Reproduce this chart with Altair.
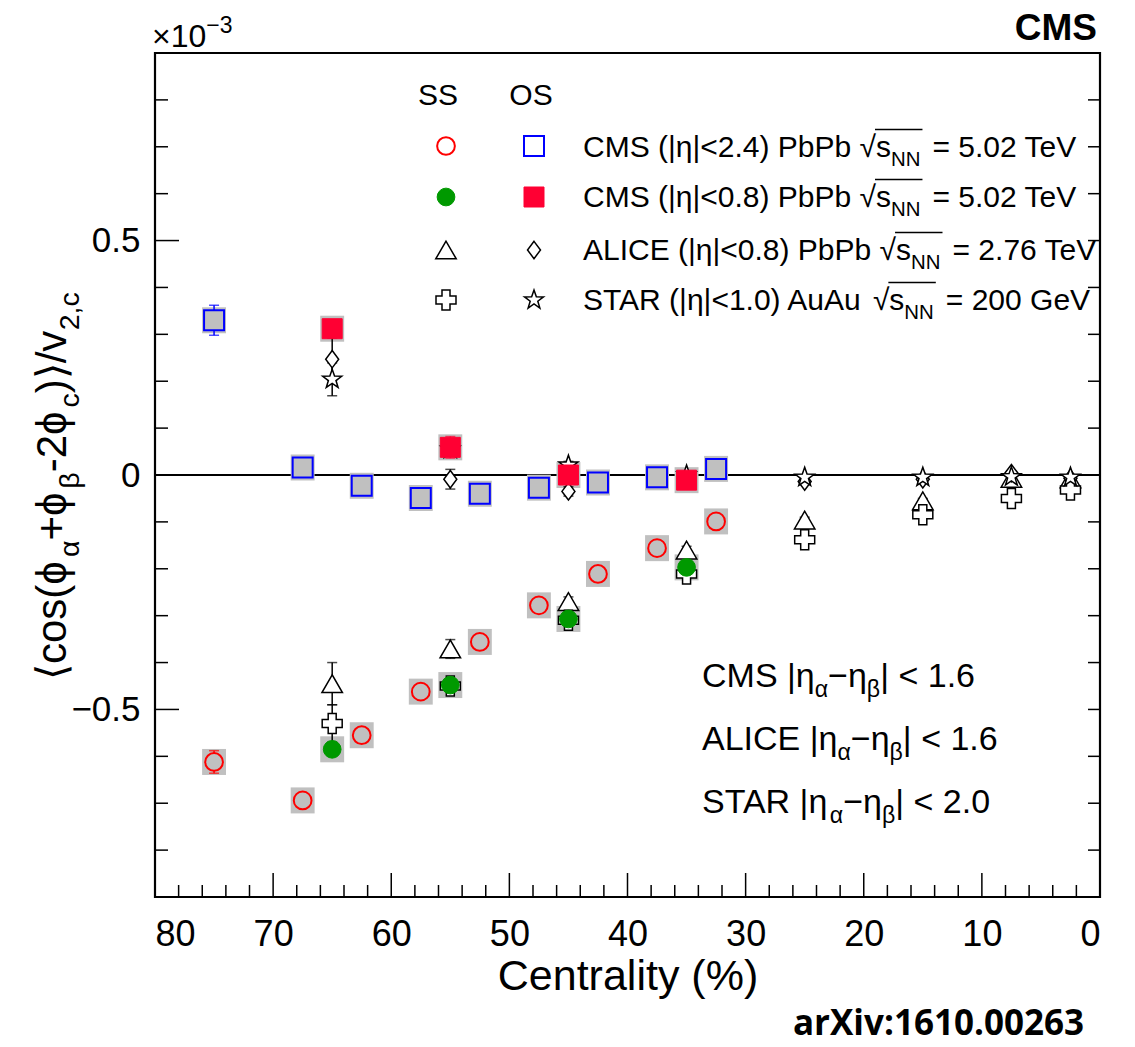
import altair as alt
import pandas as pd

# ---------------- data ----------------
x_cms24 = [75, 67.5, 62.5, 57.5, 52.5, 47.5, 42.5, 37.5, 32.5]
cms24_ss = [-0.612, -0.694, -0.555, -0.462, -0.356, -0.278, -0.211, -0.156, -0.099]
cms24_ss_err = [0.024, 0.012, 0.010, 0.008, 0.007, 0.006, 0.005, 0.005, 0.005]
cms24_os = [0.330, 0.016, -0.023, -0.049, -0.040, -0.027, -0.016, -0.005, 0.013]
cms24_os_err = [0.032, 0.012, 0.010, 0.008, 0.007, 0.006, 0.005, 0.005, 0.005]

x_cms08 = [65, 55, 45, 35]
cms08_ss = [-0.585, -0.448, -0.307, -0.197]
cms08_ss_err = [0.015, 0.010, 0.008, 0.006]
cms08_os = [0.312, 0.059, 0.000, -0.011]
cms08_os_err = [0.015, 0.023, 0.008, 0.006]

x_alice = [65, 55, 45, 35, 25, 15, 7.5, 2.5]
alice_ss = [-0.445, -0.371, -0.270, -0.160, -0.096, -0.055, -0.007, -0.008]
alice_ss_err = [0.045, 0.020, 0.010, 0.008, 0.006, 0.005, 0.005, 0.005]
alice_os = [0.247, -0.009, -0.035, -0.005, -0.014, -0.009, 0.004, -0.007]
alice_os_err = [0.045, 0.021, 0.010, 0.008, 0.006, 0.005, 0.005, 0.005]

x_star = [65, 55, 45, 35, 25, 15, 7.5, 2.5]
star_ss = [-0.530, -0.450, -0.310, -0.211, -0.138, -0.085, -0.050, -0.032]
star_ss_err = [0.040, 0.010, 0.008, 0.006, 0.005, 0.005, 0.005, 0.005]
star_os = [0.204, 0.055, 0.021, 0.000, -0.005, -0.005, -0.004, -0.005]
star_os_err = [0.035, 0.010, 0.008, 0.006, 0.005, 0.005, 0.005, 0.005]

y_major = [-0.5, 0.0, 0.5]
y_minor = [-0.8, -0.7, -0.6, -0.4, -0.3, -0.2, -0.1, 0.1, 0.2, 0.3, 0.4, 0.6, 0.7, 0.8]
x_major = [0, 10, 20, 30, 40, 50, 60, 70, 80]
x_minor = [2, 4, 6, 8, 12, 14, 16, 18, 22, 24, 26, 28, 32, 34, 36, 38, 42, 44, 46, 48,
           52, 54, 56, 58, 62, 64, 66, 68, 72, 74, 76, 78]

# ---------------- layout ----------------
L, T, R, B = 155, 53, 35, 150
W, H = 945, 844
FONT = "Liberation Sans"
GRAY = "#c0c0c0"
RED = "#ff0000"
BLUE = "#0000ff"
GREEN = "#009900"
RED_FILL = "#ff0033"

XS = alt.Scale(domain=[0, 80], reverse=True, nice=False, zero=False)
YS = alt.Scale(domain=[-0.9, 0.9], nice=False, zero=False)
AX = alt.Axis(values=x_major, ticks=False, domain=False, grid=False, format="d",
              labelFontSize=36, labelFont=FONT, labelColor="black", labelPadding=20,
              title="Centrality (%)", titleFont=FONT, titleFontSize=43,
              titleFontWeight="normal", titleColor="black", titlePadding=3)
AY = alt.Axis(values=y_major, ticks=False, domain=False, grid=False,
              labelExpr="datum.value == 0 ? '0' : replace(format(datum.value, '.1f'), '-', '\u2212')",
              labelFontSize=35, labelFont=FONT, labelColor="black", labelPadding=15,
              title=None)


def X(f):
    return alt.X(f, type="quantitative", scale=XS, axis=AX)


def Y(f):
    return alt.Y(f, type="quantitative", scale=YS, axis=AY)


def frame(xs, ys, errs=None):
    d = pd.DataFrame({"x": xs, "y": ys})
    if errs is not None:
        d["lo"] = [a - b for a, b in zip(ys, errs)]
        d["hi"] = [a + b for a, b in zip(ys, errs)]
    return d


STAR_PATH = ("M0,-1L0.235,-0.324L0.951,-0.309L0.38,0.124L0.588,0.809L0,0.4"
             "L-0.588,0.809L-0.38,0.124L-0.951,-0.309L-0.235,-0.324Z")
DIAMOND_PATH = "M0,-1L0.75,0L0,1L-0.75,0Z"
BOX_PATH = "M-0.92,-1L0.92,-1L0.92,1L-0.92,1Z"

STYLES = {
    "cms24_ss": dict(shape="circle", size=314, fill=GRAY, stroke=RED, strokeWidth=2),
    "cms24_os": dict(shape="square", size=400, fill=GRAY, stroke=BLUE, strokeWidth=2),
    "cms08_ss": dict(shape="circle", size=314, fill=GREEN, stroke=GREEN, strokeWidth=1),
    "cms08_os": dict(shape="square", size=400, fill=RED_FILL, stroke=RED_FILL, strokeWidth=1),
    "alice_ss": dict(shape="triangle-up", size=420, fill="white", stroke="black", strokeWidth=1.5),
    "alice_os": dict(shape=DIAMOND_PATH, size=300, fill="white", stroke="black", strokeWidth=1.5),
    "star_ss": dict(shape="cross", size=400, fill="white", stroke="black", strokeWidth=1.5),
    "star_os": dict(shape=STAR_PATH, size=400, fill="white", stroke="black", strokeWidth=1.5),
}


def points(d, key):
    return alt.Chart(d).mark_point(filled=True, opacity=1, **STYLES[key]).encode(
        x=X("x"), y=Y("y"))


def errbars(d, color):
    rule = alt.Chart(d).mark_rule(color=color, strokeWidth=1.5).encode(
        x=X("x"), y=Y("lo"), y2="hi")
    cap_lo = alt.Chart(d).mark_tick(orient="horizontal", color=color, size=10,
                                    thickness=1.5).encode(x=X("x"), y=Y("lo"))
    cap_hi = alt.Chart(d).mark_tick(orient="horizontal", color=color, size=10,
                                    thickness=1.5).encode(x=X("x"), y=Y("hi"))
    return [rule, cap_lo, cap_hi]


def boxes(d):
    return alt.Chart(d).mark_point(shape=BOX_PATH, size=676, filled=True, fill=GRAY,
                                   opacity=1).encode(x=X("x"), y=Y("y"))


d_c24ss = frame(x_cms24, cms24_ss, cms24_ss_err)
d_c24os = frame(x_cms24, cms24_os, cms24_os_err)
d_c08ss = frame(x_cms08, cms08_ss, cms08_ss_err)
d_c08os = frame(x_cms08, cms08_os, cms08_os_err)
d_ass = frame(x_alice, alice_ss, alice_ss_err)
d_aos = frame(x_alice, alice_os, alice_os_err)
d_sss = frame(x_star, star_ss, star_ss_err)
d_sos = frame(x_star, star_os, star_os_err)

layers = []

# zero line
layers.append(alt.Chart(pd.DataFrame({"v": [0.0]})).mark_rule(color="black", strokeWidth=1.8)
              .encode(y=Y("v")))


# axis ticks (inside the frame)
def yticks(vals, x0, x1):
    return alt.Chart(pd.DataFrame({"v": vals})).mark_rule(color="black", strokeWidth=1.5).encode(
        y=Y("v"), x=alt.value(x0), x2=alt.value(x1))


def xticks(vals, ln):
    return alt.Chart(pd.DataFrame({"v": vals})).mark_rule(color="black", strokeWidth=1.5).encode(
        x=X("v"), y=alt.value(H), y2=alt.value(H - ln))


layers += [yticks(y_major, 0, 24), yticks(y_minor, 0, 13),
           yticks(y_major + y_minor, W - 12, W),
           xticks(x_major, 24), xticks(x_minor, 12)]

# systematic boxes
layers += [boxes(d_c24ss), boxes(d_c24os), boxes(d_c08ss), boxes(d_c08os)]

# ALICE / STAR
for d in (d_ass, d_aos, d_sss, d_sos):
    layers += errbars(d, "black")
layers += [points(d_ass, "alice_ss"), points(d_aos, "alice_os"),
           points(d_sss, "star_ss"), points(d_sos, "star_os")]

# CMS
layers += errbars(d_c24ss, RED) + errbars(d_c24os, BLUE)
layers += errbars(d_c08ss, GREEN) + errbars(d_c08os, RED_FILL)
layers += [points(d_c24ss, "cms24_ss"), points(d_c24os, "cms24_os"),
           points(d_c08ss, "cms08_ss"), points(d_c08os, "cms08_os")]

# ---------------- text helpers ----------------
CW = {' ': 278, '(': 333, ')': 333, '|': 260, '<': 584, '>': 584, '=': 584, '+': 584,
      '-': 333, '\u2212': 584, '.': 278, ',': 278, '/': 278, ':': 278, '%': 889,
      '\u00d7': 584, '\u221a': 549, '\u27e8': 390, '\u27e9': 390, '\u03b7': 556,
      '\u03b1': 578, '\u03b2': 575, '\u03d5': 650, '\u03c6': 650}
for ch in "0123456789":
    CW[ch] = 556
CW.update({'A': 667, 'B': 667, 'C': 722, 'D': 722, 'E': 667, 'F': 611, 'G': 778, 'H': 722,
           'I': 278, 'J': 500, 'K': 667, 'L': 556, 'M': 833, 'N': 722, 'O': 778, 'P': 667,
           'Q': 778, 'R': 722, 'S': 667, 'T': 611, 'U': 722, 'V': 667, 'W': 944, 'X': 667,
           'Y': 667, 'Z': 611, 'a': 556, 'b': 556, 'c': 500, 'd': 556, 'e': 556, 'f': 278,
           'g': 556, 'h': 556, 'i': 222, 'j': 222, 'k': 500, 'l': 222, 'm': 833, 'n': 556,
           'o': 556, 'p': 556, 'q': 556, 'r': 333, 's': 500, 't': 278, 'u': 556, 'v': 500,
           'w': 722, 'x': 500, 'y': 500, 'z': 500})


def tw(s, fs):
    return sum(CW.get(c, 556) for c in s) / 1000.0 * fs


def txt(s, sx, sy, fs, angle=0, weight="normal", align="left", font=FONT, color="black"):
    return alt.Chart(pd.DataFrame({"t": [s]})).mark_text(
        align=align, baseline="alphabetic", fontSize=fs, font=font, fontWeight=weight,
        angle=angle, color=color).encode(
        x=alt.value(sx - L), y=alt.value(sy - T), text="t:N")


def rich(segs, sx, sy, fs, angle=0):
    out, spans, pos = [], [], 0.0
    for s, kind in segs:
        if kind == "gap":
            spans.append((sx + pos, sx + pos + s))
            pos += s
            continue
        if kind == "n":
            f, off = fs, 0.0
        elif kind == "sub":
            f, off = fs * 0.68, fs * 0.30
        else:
            f, off = fs * 0.68, -fs * 0.42
        if angle == 0:
            out.append(txt(s, sx + pos, sy + off, f))
        else:
            out.append(txt(s, sx + off, sy - pos, f, angle=270))
        w = tw(s, f)
        spans.append((sx + pos, sx + pos + w))
        pos += w
    return out, spans


def hline(sx0, sx1, sy):
    return alt.Chart(pd.DataFrame({"a": [0]})).mark_rule(color="black", strokeWidth=1.5).encode(
        x=alt.value(sx0 - L), x2=alt.value(sx1 - L), y=alt.value(sy - T))


# y title
yt, _ = rich([("\u27e8cos(\u03d5", "n"), ("\u03b1", "sub"), ("+\u03d5", "n"), ("\u03b2", "sub"),
              ("-2\u03d5", "n"), ("c", "sub"), (")\u27e9/v", "n"), ("2,c", "sub")],
             66, 680, 42, angle=270)
layers += yt

# x10^-3, CMS and arXiv labels
layers += [txt("\u00d710", 152, 47, 32), txt("\u22123", 152 + tw("\u00d710", 32), 33, 23),
           txt("CMS", 1097, 40, 37, weight="bold", align="right"),
           txt("arXiv:1610.00263", 1084, 1035, 35, weight="bold", align="right", font="Open Sans")]

# legend
LF = 30
layers += [txt("SS", 438, 105, LF, align="center"), txt("OS", 531, 105, LF, align="center")]
legend_rows = [
    ("cms24_ss", "cms24_os", "CMS (|\u03b7|<2.4) PbPb ", "= 5.02 TeV", 157, 146),
    ("cms08_ss", "cms08_os", "CMS (|\u03b7|<0.8) PbPb ", "= 5.02 TeV", 207, 197),
    ("alice_ss", "alice_os", "ALICE (|\u03b7|<0.8) PbPb ", "= 2.76 TeV", 260, 250),
    ("star_ss", "star_os", "STAR (|\u03b7|<1.0) AuAu ", "= 200 GeV", 310, 300),
]
for kss, kos, pre, post, base, my in legend_rows:
    ss_style = dict(STYLES[kss])
    os_style = dict(STYLES[kos])
    if kss == "cms24_ss":
        ss_style["fill"] = "white"
    if kos == "cms24_os":
        os_style["fill"] = "white"
    layers.append(alt.Chart(pd.DataFrame({"a": [0]})).mark_point(filled=True, opacity=1, **ss_style)
                  .encode(x=alt.value(446 - L), y=alt.value(my - T)))
    layers.append(alt.Chart(pd.DataFrame({"a": [0]})).mark_point(filled=True, opacity=1, **os_style)
                  .encode(x=alt.value(534 - L), y=alt.value(my - T)))
    t, spans = rich([(pre, "n"), ("\u221a", "n"), ("s", "n"), ("NN", "sub"), (12, "gap"),
                     (post, "n")], 583, base, LF)
    layers += t
    layers.append(hline(spans[1][1] - 1, spans[3][1] + 2, base - LF * 0.92))

# bottom-right annotation
BF = 34
for name, lim, base in (("CMS", "1.6", 687), ("ALICE", "1.6", 750), ("STAR", "2.0", 813)):
    t, _ = rich([(name + " |\u03b7", "n"), ("\u03b1", "sub"), ("\u2212\u03b7", "n"), ("\u03b2", "sub"),
                 ("| < " + lim, "n")], 702, base, BF)
    layers += t

chart = alt.layer(*layers).properties(
    width=W, height=H,
    autosize=alt.AutoSizeParams(type="none"),
    padding={"left": L, "top": T, "right": R, "bottom": B},
    background="white",
).configure_view(stroke="black", strokeWidth=2.2)

chart.save("out.html", embed_options={"renderer": "svg", "actions": False})
